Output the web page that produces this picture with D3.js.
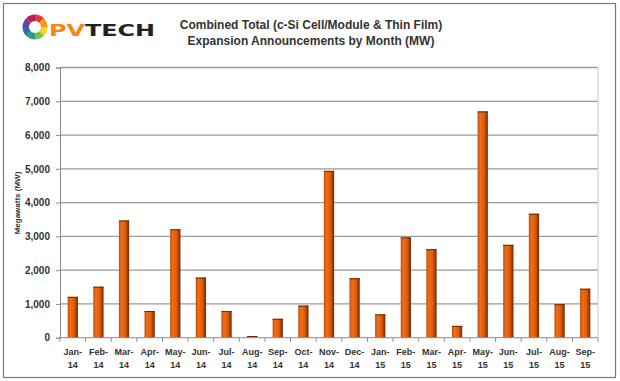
<!DOCTYPE html>
<html><head><meta charset="utf-8">
<script src="https://cdn.jsdelivr.net/npm/d3@7/dist/d3.min.js"></script>
<style>body{margin:0;background:#fff}svg{display:block;font-family:Arial,"Liberation Sans",sans-serif}</style>
</head><body><svg id="c" width="620" height="381"></svg>
<script>
const months = ["Jan-","Feb-","Mar-","Apr-","May-","Jun-","Jul-","Aug-","Sep-","Oct-","Nov-","Dec-","Jan-","Feb-","Mar-","Apr-","May-","Jun-","Jul-","Aug-","Sep-"];
const years = ["14","14","14","14","14","14","14","14","14","14","14","14","15","15","15","15","15","15","15","15","15"];
const values = [1210,1510,3470,790,3210,1780,790,50,560,950,4940,1760,690,2970,2620,350,6700,2750,3670,990,1450];
const yTicks = [0,1000,2000,3000,4000,5000,6000,7000,8000];
const titleLines = ["Combined Total (c-Si Cell/Module & Thin Film)","Expansion Announcements by Month (MW)"];
const yLabel = "Megawatts (MW)";

const svg = d3.select("#c");
const defs = svg.append("defs");
const g1 = defs.append("linearGradient").attr("id","bar").attr("x1","0").attr("x2","1").attr("y1","0").attr("y2","0");
g1.append("stop").attr("offset","0").attr("stop-color","#c04c08");
g1.append("stop").attr("offset","0.25").attr("stop-color","#f26e14");
g1.append("stop").attr("offset","0.65").attr("stop-color","#dc5a0c");
g1.append("stop").attr("offset","1").attr("stop-color","#6a2805");

svg.append("rect").attr("x",3.5).attr("y",3.5).attr("width",612).attr("height",374).attr("fill","#fff").attr("stroke","#7a7a7a").attr("stroke-width",1.2);

const m = {l:60,r:598,t:67.5,b:337.7};
const x = d3.scaleBand().domain(d3.range(values.length)).range([m.l,m.r]).paddingInner(0.6).paddingOuter(0.3);
const xb = d3.scaleBand().domain(d3.range(values.length)).range([m.l,m.r]);
const y = d3.scaleLinear().domain([0,8000]).range([m.b,m.t]);

svg.append("g").selectAll("line").data(yTicks.slice(1)).join("line")
  .attr("x1",m.l).attr("x2",m.r).attr("y1",d=>y(d)).attr("y2",d=>y(d))
  .attr("stroke","#9a9a9a").attr("stroke-width",1.3);
svg.append("line").attr("x1",m.r).attr("x2",m.r).attr("y1",m.t).attr("y2",m.b).attr("stroke","#c8c8c8");

const ya = svg.append("g").attr("transform",`translate(${m.l},0)`)
  .call(d3.axisLeft(y).tickValues(yTicks).tickFormat(d3.format(",")).tickSize(4).tickPadding(6));
ya.select(".domain").attr("stroke","#8a8a8a");
ya.selectAll(".tick line").attr("stroke","#8a8a8a");
ya.selectAll("text").attr("font-size",10).attr("font-weight","bold").attr("fill","#333");

svg.append("g").selectAll("rect").data(values).join("rect")
  .attr("x",(d,i)=>x(i)).attr("width",x.bandwidth())
  .attr("y",d=>y(d)).attr("height",d=>m.b-y(d))
  .attr("fill","url(#bar)");
svg.append("g").selectAll("line").data(values).join("line")
  .attr("x1",(d,i)=>x(i)).attr("x2",(d,i)=>x(i)+x.bandwidth())
  .attr("y1",d=>y(d)+0.5).attr("y2",d=>y(d)+0.5).attr("stroke","#6a2805").attr("stroke-width",1);

svg.append("line").attr("x1",m.l).attr("x2",m.r).attr("y1",m.b).attr("y2",m.b).attr("stroke","#8a8a8a");
svg.append("g").selectAll("line").data(d3.range(values.length+1)).join("line")
  .attr("x1",d=>m.l+d*xb.step()).attr("x2",d=>m.l+d*xb.step())
  .attr("y1",m.b).attr("y2",m.b+4).attr("stroke","#8a8a8a");
const xl = svg.append("g").selectAll("text").data(months).join("text")
  .attr("x",(d,i)=>xb(i)+xb.bandwidth()/2).attr("y",355)
  .attr("text-anchor","middle").attr("font-size",9).attr("font-weight","bold").attr("fill","#333");
xl.append("tspan").text(d=>d);
xl.append("tspan").attr("x",(d,i)=>xb(i)+xb.bandwidth()/2).attr("dy",13).text((d,i)=>years[i]);

svg.append("text").attr("transform","translate(20,203) rotate(-90)").attr("text-anchor","middle")
  .attr("font-size",8).attr("font-weight","bold").attr("fill","#333").text(yLabel);

svg.append("g").selectAll("text").data(titleLines).join("text")
  .attr("x",311).attr("y",(d,i)=>29+i*16).attr("text-anchor","middle")
  .attr("font-size",12).attr("font-weight","bold").attr("fill","#333").text(d=>d);

const lg = svg.append("g").attr("transform","translate(35,27)");
const cols = ["#e53935","#f39c12","#f7d31a","#7cc242","#2a9d8f","#2b6cb0","#6a3fa0","#c2185b"];
const arc = d3.arc().innerRadius(6).outerRadius(12.5);
const pie = d3.pie().sort(null)(cols.map(()=>1));
lg.selectAll("path").data(pie).join("path").attr("d",arc).attr("fill",(d,i)=>cols[i]);
const pv = svg.append("text").attr("x",49).attr("y",36).attr("font-size",16).attr("font-weight","bold")
  .attr("textLength",106).attr("lengthAdjust","spacingAndGlyphs").attr("font-family","'DejaVu Sans',Arial,sans-serif");
pv.append("tspan").attr("fill","#f08a1c").text("PV");
pv.append("tspan").attr("fill","#222").text("TECH");
</script></body></html>
